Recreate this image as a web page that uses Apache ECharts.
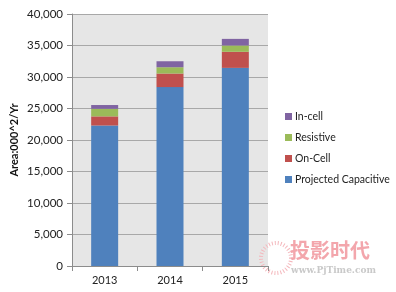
<!DOCTYPE html>
<html><head><meta charset="utf-8">
<script src="https://cdn.jsdelivr.net/npm/echarts@6/dist/echarts.min.js"></script>
<style>html,body{margin:0;padding:0;background:#fff}#c{width:396px;height:292px}</style>
</head><body><div id="c"></div>
<script>
const categories = ['2013', '2014', '2015'];
const projectedCapacitive = [22300, 28400, 31450];
const onCell = [1450, 2150, 2550];
const resistive = [1200, 1000, 1000];
const inCell = [600, 950, 1050];
const yTicks = [0, 5000, 10000, 15000, 20000, 25000, 30000, 35000, 40000];

const font = 'Lato, "Open Sans", sans-serif';
const chart = echarts.init(document.getElementById('c'), null, {renderer: 'canvas'});
function ser(name, data, color) {
  return {name, type: 'bar', stack: 'a', data, barWidth: 27,
    itemStyle: {color}, emphasis: {disabled: true}};
}
chart.setOption({
  animation: false,
  grid: {left: 72, right: 128, top: 14, bottom: 26, show: true, backgroundColor: '#e6e6e6', borderWidth: 0},
  legend: {
    orient: 'vertical', left: 280, top: 106, itemWidth: 7, itemHeight: 7, itemGap: 10,
    icon: 'rect', data: ['In-cell', 'Resistive', 'On-Cell', 'Projected Capacitive'],
    textStyle: {fontFamily: font, fontSize: 10.5, color: '#222', padding: [0, 0, 0, -2]}
  },
  xAxis: {
    type: 'category', data: categories,
    axisLine: {lineStyle: {color: '#8c8c8c'}},
    axisTick: {show: true, length: 5, lineStyle: {color: '#8c8c8c'}},
    axisLabel: {fontFamily: font, fontSize: 11, color: '#222', margin: 9}
  },
  yAxis: {
    type: 'value', min: yTicks[0], max: yTicks[yTicks.length - 1], interval: yTicks[1] - yTicks[0],
    name: 'Area:000^2/Yr', nameLocation: 'middle', nameGap: 52, nameRotate: 90,
    nameTextStyle: {fontFamily: font, fontSize: 11, color: '#111', fontWeight: 'bold'},
    axisLine: {show: true, lineStyle: {color: '#8c8c8c'}},
    axisTick: {show: true, length: 5, lineStyle: {color: '#8c8c8c'}},
    axisLabel: {fontFamily: font, fontSize: 11.5, color: '#222', margin: 9,
      formatter: v => v.toLocaleString('en-US')},
    splitLine: {lineStyle: {color: '#a8a8a8'}}
  },
  series: [
    ser('Projected Capacitive', projectedCapacitive, '#4f81bd'),
    ser('On-Cell', onCell, '#c0504d'),
    ser('Resistive', resistive, '#9bbb59'),
    ser('In-cell', inCell, '#8064a2')
  ],
  graphic: [
    {type: 'circle', shape: {cx: 276, cy: 258, r: 15}, style: {fill: 'none', stroke: '#f4b8bd', lineWidth: 4, lineDash: [1, 2]}, silent: true},
    {type: 'text', left: 290, top: 240, style: {text: '投影时代', font: 'bold 20px "Noto Sans CJK SC"', fill: '#f3a6ac'}, silent: true},
    {type: 'text', left: 291, top: 266, style: {text: 'www.PjTime.com', font: 'bold 9px "DejaVu Serif", serif', fill: '#c9c9c9'}, silent: true}
  ]
});
</script></body></html>
